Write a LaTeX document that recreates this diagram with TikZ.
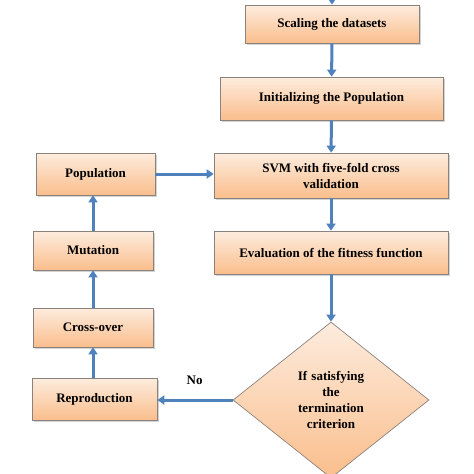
\documentclass[tikz,border=0pt]{standalone}
\usepackage{fontspec}
\setmainfont{Liberation Serif}
\usetikzlibrary{positioning, arrows.meta, shapes.geometric, shadows}

\definecolor{boxtop}{RGB}{253,236,222}
\definecolor{boxbottom}{RGB}{250,190,140}
\definecolor{boxline}{RGB}{140,130,125}
\definecolor{flowblue}{RGB}{79,129,189}

\begin{document}
\begin{tikzpicture}[
        x=1pt, y=-1pt,
        stepbox/.style={rectangle, draw=boxline, line width=0.7pt, top color=boxtop, bottom color=boxbottom,
            drop shadow={shadow xshift=1.5pt, shadow yshift=-1.5pt, opacity=0.35},
            inner sep=2pt, font=\bfseries\fontsize{13}{16}\selectfont, align=center},
        decision/.style={diamond, draw=boxline, line width=0.7pt, top color=boxtop, bottom color=boxbottom,
            minimum width=196pt, minimum height=156pt, inner sep=0pt, text width=90pt,
            font=\bfseries\fontsize{13}{16}\selectfont, align=center},
        flow/.style={draw=flowblue, line width=3pt, -{Triangle[width=9pt,length=7pt]}}
    ]
    \useasboundingbox (0,0) rectangle (474,474);
    % main column
    \coordinate (Start) at (332,0);
    \node (Scale) [stepbox, minimum width=174pt, minimum height=38pt] at (332,24) {Scaling the datasets};
    \node (Init) [stepbox, minimum width=223pt, minimum height=43pt] at (331.5,98.5) {Initializing the Population};
    \node (SVM) [stepbox, minimum width=234pt, minimum height=45pt] at (331,175.5) {SVM with five-fold cross\\validation};
    \node (Eval) [stepbox, minimum width=234pt, minimum height=43pt] at (331,252.5) {Evaluation of the fitness function};
    \node (Check) [decision] at (331,400) {If satisfying\\the\\termination\\criterion};
    % left column
    \node (Pop) [stepbox, minimum width=119pt, minimum height=42pt] at (95.5,174) {Population};
    \node (Mut) [stepbox, minimum width=120pt, minimum height=39pt] at (93,250.5) {Mutation};
    \node (Cross) [stepbox, minimum width=120pt, minimum height=39pt] at (93,327.5) {Cross-over};
    \node (Repro) [stepbox, minimum width=125pt, minimum height=42pt] at (94.5,399) {Reproduction};

    \draw[flow] (Start) -- (Scale);
    \draw[flow] (Scale) -- (Init);
    \draw[flow] (Init) -- (SVM);
    \draw[flow] (SVM) -- (Eval);
    \draw[flow] (Eval) -- (Check);
    \draw[flow] (Check.west) -- (Repro.east |- Check.west);
    \draw[flow] (Repro.north -| Cross.south) -- (Cross.south);
    \draw[flow] (Cross) -- (Mut);
    \draw[flow] (Mut.north) -- (Mut.north |- Pop.south);
    \draw[flow] (Pop.east) -- (Pop.east -| SVM.west);
    \node (No) [font=\bfseries\fontsize{13}{16}\selectfont, above=12pt of Check.west, xshift=-38pt] {No};
\end{tikzpicture}
\end{document}
